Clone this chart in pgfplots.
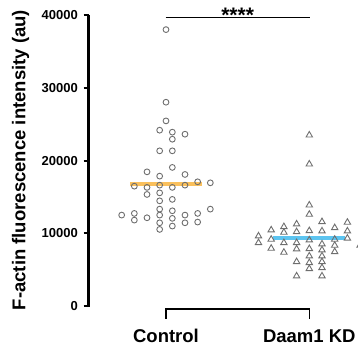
\documentclass[border=0pt]{standalone}
\usepackage{fontspec}
\setmainfont{Liberation Sans}
\usepackage{pgfplots}
\pgfplotsset{compat=1.18}
\definecolor{medorange}{RGB}{250,192,92}
\definecolor{medblue}{RGB}{92,196,240}
\definecolor{markgray}{RGB}{110,110,110}
\begin{document}
\begin{tikzpicture}
\useasboundingbox (0,0) rectangle (358pt,347pt);
\begin{axis}[
  at={(88.5pt,39.9pt)}, anchor=south west,
  scale only axis, width=269.5pt, height=291.8pt,
  xmin=0.4592, xmax=2.3399, ymin=-150, ymax=40000,
  clip=false,
  axis lines*=left, separate axis lines,
  x axis line style={draw=none},
  y axis line style={line width=2.6pt,-},
  xtick={1,2}, xticklabels={Control,Daam1 KD},
  x tick style={draw=none},
  ytick={0,10000,20000,30000,40000},
  scaled y ticks=false,
  tick align=outside,
  major tick length=5pt,
  y tick style={line width=1.8pt,black},
  /pgf/number format/.cd, 1000 sep={}, assume math mode=true,
  /pgfplots/.cd,
  yticklabel style={font=\fontsize{13}{15}\selectfont\bfseries, anchor=east, inner sep=0pt, xshift=-5.5pt},
  xticklabel style={font=\fontsize{18.5}{20}\selectfont\bfseries, anchor=base, inner sep=0pt, yshift=-30.5pt},
  ylabel={F-actin fluorescence intensity (au)},
  ylabel style={font=\fontsize{18.5}{20}\selectfont\bfseries, at={(axis description cs:-0.2338,0.504)}, anchor=base, inner sep=0pt},
]
% median lines
\addplot[medorange, line width=3.7pt] coordinates {(0.75,16740) (1.25,16740)};
\addplot[medblue, line width=3.9pt] coordinates {(1.75,9320) (2.25,9320)};
% Control
\addplot[only marks, mark=o, mark size=2.9pt, markgray, mark options={line width=0.9pt}] coordinates {
(1,38030) (1,28040) (1,25470)
(0.9558,24190) (1.0442,23920) (1.1325,23640) (1.0442,22950) (0.9558,21350) (1.0442,21350)
(0.6907,12510)
(0.7791,16490) (0.7791,12740) (0.7791,11820)
(0.8675,18460) (0.8675,16320) (0.8675,15350) (0.8675,12140)
(0.9558,17870) (0.9558,16630) (0.9558,15570) (0.9558,14470) (0.9558,13330) (0.9558,12510) (0.9558,11450) (0.9558,10540)
(1.0442,19070) (1.0442,16320) (1.0442,14670) (1.0442,13100) (1.0442,12060) (1.0442,11000)
(1.1325,18100) (1.1325,16630) (1.1325,12510) (1.1325,11450)
(1.2209,17090) (1.2209,12740) (1.2209,11550)
(1.3093,16950) (1.3093,13330)
};
% Daam1 KD
\addplot[only marks, mark=triangle, mark size=3.7pt, markgray, mark options={line width=0.9pt}] coordinates {
(1.6455,9620) (1.6455,8700)
(1.7341,10450) (1.7341,9170) (1.7341,7930)
(1.8227,10900) (1.8227,10130) (1.8227,8700) (1.8227,7380)
(1.9114,11270) (1.9114,10210) (1.9114,8700) (1.9114,7840) (1.9114,6090) (1.9114,4120)
(2,23510) (2,19520) (2,13880) (2,12600) (2,10350) (2,9070) (2,7880) (2,6870) (2,5950) (2,5130)
(2.0886,11590) (2.0886,10310) (2.0886,8520) (2.0886,7700) (2.0886,6870) (2.0886,6090) (2.0886,5260) (2.0886,4120)
(2.1773,10760) (2.1773,9170) (2.1773,8340) (2.1773,7460)
(2.2659,11510) (2.2659,10310) (2.2659,9310)
(2.3545,8340)
};
% significance bar and bracket
\draw[line width=1.3pt] (axis cs:0.998,39725) -- (axis cs:2.004,39725);
\node[anchor=base, inner sep=0pt, font=\fontsize{21}{21}\selectfont\bfseries] at (axis cs:1.5,39000) {****};
\draw[line width=1.2pt] (axis cs:1,-1787) -- (axis cs:1,-412) -- (axis cs:2,-412) -- (axis cs:2,-1787);
\end{axis}
\end{tikzpicture}
\end{document}
